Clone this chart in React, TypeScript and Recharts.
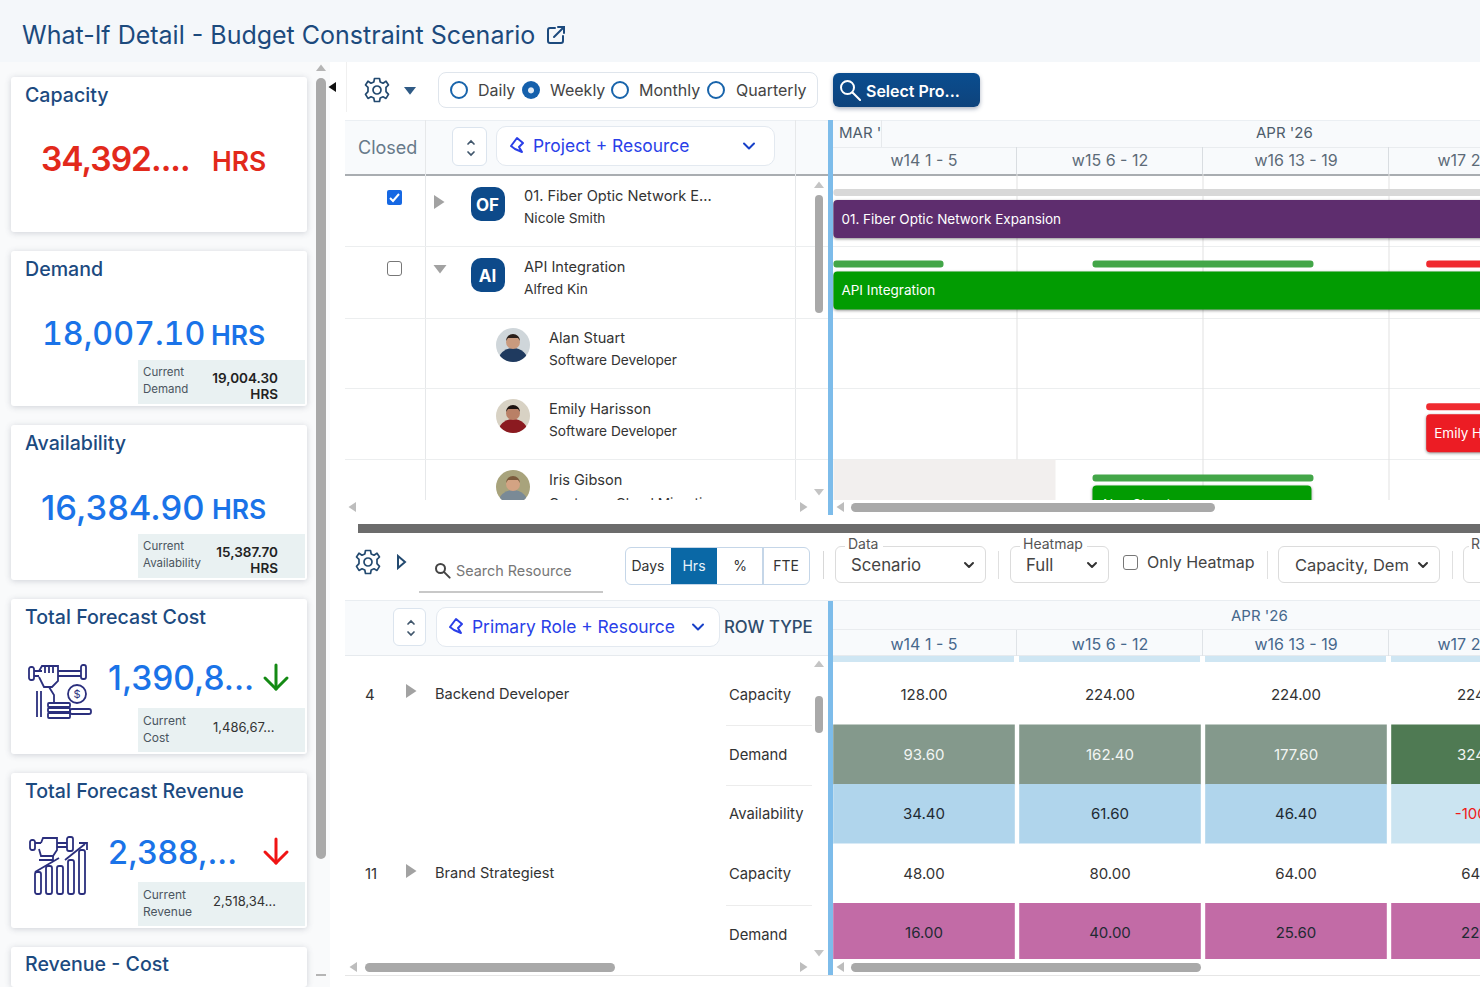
import React from 'react';
import { Bar, BarChart, CartesianGrid, Cell, LabelList, XAxis, YAxis } from 'recharts';

const FONT = 'Inter, "Noto Sans", sans-serif';

// shared time axis
const weekLabels = ['w14  1 - 5', 'w15  6 - 12', 'w16  13 - 19', 'w17  20 - 26'];
const weekTicks = [0.5, 1.5, 2.5, 3.5];
const weekLines = [1, 2, 3];

// gantt rows, all positions in week units
const ganttRows = ['01. Fiber Optic Network Expansion', 'API Integration', 'Alan Stuart', 'Emily Harisson', 'Iris Gibson'];
const mainRanges = [[0.013, 4], [0.013, 4], null, [3.2, 4], [1.406, 2.583]];
const mainLabels = ['01. Fiber Optic Network Expansion', 'API Integration', '', 'Emily Harisson', 'Alan Stuart'];
const mainColors = ['#5e2d6e', '#029c02', '#029c02', '#ec1c24', '#029c02'];
const leaveRanges = [null, null, null, null, [0.013, 1.207]];
const thinGap1 = [0.013, 0.013, 0, 3.2, 1.406];
const thinSeg1 = [3.987, 0.592, 0, 0.8, 1.188];
const thinGap2 = [0, 0.801, 0, 0, 0];
const thinSeg2 = [0, 1.188, 0, 0, 0];
const thinGap3 = [0, 0.606, 0, 0, 0];
const thinSeg3 = [0, 0.8, 0, 0, 0];
const thinColor1 = ['#d8d8d8', '#43a648', '#fff', '#f02a2f', '#43a648'];
const thinColor2 = ['#fff', '#43a648', '#fff', '#fff', '#fff'];
const thinColor3 = ['#fff', '#f02a2f', '#fff', '#fff', '#fff'];

// heatmap rows
const heatRows = ['Backend Capacity', 'Backend Demand', 'Backend Availability', 'Brand Capacity', 'Brand Demand'];
const backendCapacity = [128, 224, 224, 224];
const backendDemand = [93.6, 162.4, 177.6, 324.8];
const backendAvailability = [34.4, 61.6, 46.4, -100.8];
const brandCapacity = [48, 80, 64, 64];
const brandDemand = [16, 40, 25.6, 22.4];
const heatValues = [backendCapacity, backendDemand, backendAvailability, brandCapacity, brandDemand];
const heatFills = [
  ['#fff', '#fff', '#fff', '#fff'],
  ['#84998c', '#84998c', '#84998c', '#4f7a53'],
  ['#b0d5ec', '#b0d5ec', '#b0d5ec', '#cbe4f1'],
  ['#fff', '#fff', '#fff', '#fff'],
  ['#c26ba6', '#c26ba6', '#c26ba6', '#c26ba6'],
];
const heatInk = [
  ['#333', '#333', '#333', '#333'],
  ['#f2f5f3', '#f2f5f3', '#f2f5f3', '#f2f5f3'],
  ['#1f2a33', '#1f2a33', '#1f2a33', '#f01818'],
  ['#333', '#333', '#333', '#333'],
  ['#1f2a33', '#1f2a33', '#1f2a33', '#1f2a33'],
];

const ganttData = ganttRows.map((row, i) => ({
  row,
  pad: 0,
  leave: leaveRanges[i],
  main: mainRanges[i],
  label: mainLabels[i],
  gap1: thinGap1[i],
  seg1: thinSeg1[i],
  gap2: thinGap2[i],
  seg2: thinSeg2[i],
  gap3: thinGap3[i],
  seg3: thinSeg3[i],
}));

const heatData = heatRows.map((row) => ({ row, u0: 1, u1: 1, u2: 1, u3: 1 }));

// KPI cards
const cards = [
  { top: 77, title: 'Capacity', value: '34,392....', unit: 'HRS', color: '#e2291b', vx: 41, ux: 212, vs: 33.5, ls: -1, vw: 600 },
  { top: 251, title: 'Demand', value: '18,007.10', unit: 'HRS', color: '#1a73e8', vx: 42, ux: 211, vs: 32.2, tnum: true, sub: ['Current', 'Demand'], subVal: ['19,004.30', 'HRS'] },
  { top: 425, title: 'Availability', value: '16,384.90', unit: 'HRS', color: '#1a73e8', vx: 41, ux: 212, vs: 34.5, sub: ['Current', 'Availability'], subVal: ['15,387.70', 'HRS'] },
  { top: 599, title: 'Total Forecast Cost', value: '1,390,8...', color: '#1a73e8', vx: 108, vs: 33.5, sub: ['Current', 'Cost'], subText: '1,486,67...', arrow: '#148a14', icon: 'cost' },
  { top: 773, title: 'Total Forecast Revenue', value: '2,388,...', color: '#1a73e8', vx: 108, vs: 32.5, sub: ['Current', 'Revenue'], subText: '2,518,34...', arrow: '#f01414', icon: 'rev' },
];

const T = ({ x, y, s = 15, c = '#333', w = 400, a, style, children }: any) => (
  <div
    style={{
      position: 'absolute',
      left: x,
      top: y,
      fontSize: s,
      color: c,
      fontWeight: w,
      whiteSpace: 'pre',
      lineHeight: 1,
      transform: a === 'c' ? 'translate(-50%,-50%)' : 'translateY(-50%)',
      ...style,
    }}
  >
    {children}
  </div>
);

const Box = ({ x, y, w, h, style, children }: any) => (
  <div style={{ position: 'absolute', left: x, top: y, width: w, height: h, boxSizing: 'border-box', ...style }}>{children}</div>
);

const Tri = ({ x, y, dir = 'r', size = 5, c = '#999' }: any) => {
  const pts: any = {
    r: `0,${-size} ${size * 1.5},0 0,${size}`,
    l: `0,${-size} ${-size * 1.5},0 0,${size}`,
    d: `${-size},0 ${size},0 0,${size * 1.3}`,
    u: `${-size},0 ${size},0 0,${-size * 1.3}`,
  };
  return (
    <svg style={{ position: 'absolute', left: x - 12, top: y - 12 }} width={24} height={24} viewBox="-12 -12 24 24">
      <polygon points={pts[dir]} fill={c} />
    </svg>
  );
};

const Gear = ({ x, y }: any) => (
  <svg style={{ position: 'absolute', left: x - 14, top: y - 14 }} width={28} height={28} viewBox="-14 -14 28 28" fill="none" stroke="#234a70" strokeWidth={1.7}>
    <path d="M-2.5,-11.5 L2.5,-11.5 L3.2,-8 L6,-6.8 L9,-8.8 L11.5,-5 L9,-2.6 L9,1.6 L11.5,4.4 L9,8.4 L6,6.8 L3.2,8 L2.5,11.5 L-2.5,11.5 L-3.2,8 L-6,6.8 L-9,8.4 L-11.5,4.4 L-9,1.6 L-9,-2.6 L-11.5,-5 L-9,-8.8 L-6,-6.8 L-3.2,-8 Z" strokeLinejoin="round" />
    <circle r={4} />
  </svg>
);

const Chevron = ({ x, y, c = '#333', s = 5 }: any) => (
  <svg style={{ position: 'absolute', left: x - 8, top: y - 8 }} width={16} height={16} viewBox="-8 -8 16 16" fill="none" stroke={c} strokeWidth={2} strokeLinecap="round" strokeLinejoin="round">
    <polyline points={`${-s},${-s / 2} 0,${s / 2} ${s},${-s / 2}`} />
  </svg>
);

const Magnifier = ({ x, y, c = '#555', r = 5 }: any) => (
  <svg style={{ position: 'absolute', left: x - 12, top: y - 12 }} width={24} height={24} viewBox="-12 -12 24 24" fill="none" stroke={c} strokeWidth={2}>
    <circle cx={-1.5} cy={-1.5} r={r} />
    <line x1={r * 0.7 - 1} y1={r * 0.7 - 1} x2={r * 1.7} y2={r * 1.7} strokeLinecap="round" />
  </svg>
);

const Gem = ({ x, y }: any) => (
  <svg style={{ position: 'absolute', left: x - 9, top: y - 9 }} width={18} height={18} viewBox="-9 -9 18 18" fill="none" stroke="#2a3fe8" strokeWidth={2}>
    <path d="M0,-7 L6,-2 L2,2 L5,7 L-2,4 L-6,1 Z" strokeLinejoin="round" />
  </svg>
);

const SortBtn = ({ x, y, w, h }: any) => (
  <Box x={x} y={y} w={w} h={h} style={{ border: '1px solid #dbe4ee', borderRadius: 6, background: '#fff' }}>
    <svg style={{ position: 'absolute', left: w / 2 - 7, top: h / 2 - 10 }} width={14} height={20} viewBox="-7 -10 14 20" fill="none" stroke="#40566c" strokeWidth={1.7} strokeLinecap="round">
      <polyline points="-3,-4 0,-7 3,-4" />
      <polyline points="-3,4 0,7 3,4" />
    </svg>
  </Box>
);

const Avatar = ({ x, y, skin, coat, bg, hair }: any) => (
  <svg style={{ position: 'absolute', left: x - 17, top: y - 17 }} width={34} height={34} viewBox="-17 -17 34 34">
    <clipPath id={`av${y}`}><circle r={17} /></clipPath>
    <g clipPath={`url(#av${y})`}>
      <rect x={-17} y={-17} width={34} height={34} fill={bg} />
      <ellipse cx={0} cy={17} rx={15} ry={14} fill={coat} />
      <circle cx={0} cy={-3} r={7} fill={skin} />
      <path d="M-7,-4 A7,7 0 0 1 7,-4 L5,-7 L-5,-7 Z" fill={hair} />
    </g>
  </svg>
);

const CostIcon = ({ x, y }: any) => (
  <svg style={{ position: 'absolute', left: x, top: y }} width={66} height={58} viewBox="0 0 66 58" fill="none" stroke="#2b2f7d" strokeWidth={1.8}>
    <rect x={1} y={4} width={5} height={13} rx={2} />
    <rect x={53} y={2} width={5} height={14} rx={2} />
    <path d="M6,8 H14 M30,8 H53 M30,13 H53 M6,13 H11" />
    <path d="M11,8 L14,3 H30 V18 L24,24 H16 L11,14" />
    <path d="M17,3 V10 M21,3 V10 M25,3 V10" />
    <circle cx={49} cy={31} r={9} />
    <text x={49} y={35} fontSize={11} textAnchor="middle" fill="#2b2f7d" stroke="none">$</text>
    <rect x={20} y={40} width={22} height={4} rx={1} />
    <rect x={20} y={45} width={22} height={4} rx={1} />
    <rect x={20} y={50} width={22} height={5} rx={1} />
    <rect x={42} y={46} width={21} height={5} rx={2} />
    <path d="M9,28 V54 M13,28 V54 M21,24 L26,32 V40" />
  </svg>
);

const RevIcon = ({ x, y }: any) => (
  <svg style={{ position: 'absolute', left: x, top: y }} width={62} height={60} viewBox="0 0 62 60" fill="none" stroke="#2b2f7d" strokeWidth={1.8}>
    <rect x={1} y={4} width={5} height={10} rx={2} />
    <rect x={38} y={1} width={6} height={14} rx={2} />
    <path d="M6,7 H12 M28,7 H38 M28,11 H38" />
    <path d="M12,7 L14,2 H28 V14 L24,20 H12 L10,13" />
    <path d="M10,24 H24 L24,20 M6,36 L30,22 M36,24 L56,8 M50,7 H58 V14" />
    <rect x={6} y={36} width={6} height={22} rx={2} />
    <rect x={17} y={30} width={6} height={28} rx={2} />
    <rect x={28} y={30} width={6} height={28} rx={2} />
    <rect x={39} y={24} width={6} height={34} rx={2} />
    <rect x={50} y={14} width={6} height={44} rx={2} />
  </svg>
);

const DownArrow = ({ x, y, c }: any) => (
  <svg style={{ position: 'absolute', left: x - 15, top: y - 15 }} width={30} height={30} viewBox="-15 -15 30 30" fill="none" stroke={c} strokeWidth={3} strokeLinecap="round" strokeLinejoin="round">
    <line x1={0} y1={-12} x2={0} y2={12} />
    <polyline points="-11,1 0,12 11,1" />
  </svg>
);

const Card = ({ card }: any) => (
  <>
    <Box x={11} y={card.top} w={296} h={155} style={{ background: '#fff', borderRadius: 3, boxShadow: '0 1px 6px rgba(60,70,90,.22)' }} />
    <T x={25} y={card.top + 18.5} s={19.6} c="#1c4a80" w={500}>{card.title}</T>
    <T
      x={card.vx}
      y={card.top + (card.unit ? 83 : 80)}
      s={card.vs}
      c={card.color}
      w={card.vw || 500}
      style={{ letterSpacing: card.ls || 0, fontFeatureSettings: card.tnum ? '"tnum"' : 'normal' }}
    >
      {card.value}
    </T>
    {card.unit && <T x={card.ux} y={card.top + 84} s={26.5} c={card.color} w={600}>{card.unit}</T>}
    {card.sub && (
      <>
        <Box x={138} y={card.top + 109} w={167} h={44} style={{ background: '#e9f1f2' }} />
        <T x={143} y={card.top + 122} s={card.subText ? 12 : 11.5} c="#4b5560">{card.sub[0]}</T>
        <T x={143} y={card.top + 139} s={card.subText ? 12 : 11.5} c="#4b5560">{card.sub[1]}</T>
      </>
    )}
    {card.subVal && (
      <>
        <div style={{ position: 'absolute', right: 1480 - 278, top: card.top + 121, fontSize: 13.5, fontWeight: 600, color: '#222', lineHeight: 1, whiteSpace: 'pre' }}>{card.subVal[0]}</div>
        <div style={{ position: 'absolute', right: 1480 - 278, top: card.top + 137, fontSize: 13.5, fontWeight: 600, color: '#222', lineHeight: 1 }}>{card.subVal[1]}</div>
      </>
    )}
    {card.subText && <T x={213} y={card.top + 128} s={13} c="#333">{card.subText}</T>}
    {card.arrow && <DownArrow x={276} y={card.top + 78} c={card.arrow} />}
    {card.icon === 'cost' && <CostIcon x={28} y={card.top + 64} />}
    {card.icon === 'rev' && <RevIcon x={29} y={card.top + 63} />}
  </>
);

const Radio = ({ x, on }: any) => (
  <div
    style={{
      position: 'absolute',
      left: x - 9,
      top: 81,
      width: 18,
      height: 18,
      boxSizing: 'border-box',
      borderRadius: '50%',
      border: on ? 'none' : '2.2px solid #1864ab',
      background: on ? 'radial-gradient(circle at 50% 52%, #dfeaf5 0 2.5px, #1560ac 3.5px)' : '#fff',
    }}
  />
);

const HeatCell = (rowIdx: number) => (props: any) => {
  const { x, y, width, height, index } = props;
  const value = heatValues[index][rowIdx];
  return (
    <g>
      <rect x={x + 2.2} y={y} width={width - 4.4} height={height} fill={heatFills[index][rowIdx]} />
      <text x={x + width / 2} y={y + height / 2 + 1} textAnchor="middle" dominantBaseline="middle" fontSize={15} fill={heatInk[index][rowIdx]} fontFamily={FONT}>
        {value.toFixed(2)}
      </text>
    </g>
  );
};

const weekFormatter = (v: number) => weekLabels[weekTicks.indexOf(v)];

const GanttChart = () => (
  <BarChart
    width={744}
    height={384}
    data={ganttData}
    layout="vertical"
    barGap={4}
    margin={{ top: 0, right: 0, bottom: 0, left: 0 }}
    style={{ fontFamily: FONT }}
  >
    <CartesianGrid horizontal={false} vertical verticalValues={weekLines} stroke="#e1e1e1" />
    <XAxis
      type="number"
      orientation="top"
      domain={[0, 4]}
      ticks={weekTicks}
      interval={0}
      height={27}
      axisLine={false}
      tickLine={false}
      tickSize={0}
      tickMargin={8}
      tickFormatter={weekFormatter}
      tick={{ fontSize: 16, fill: '#5d6b78' }}
    />
    <YAxis type="category" dataKey="row" hide width={0} />
    <YAxis type="category" dataKey="row" yAxisId="band" hide width={0} />
    <Bar dataKey="leave" yAxisId="band" barSize={71} fill="#f2efee" isAnimationActive={false} />
    <Bar dataKey="pad" stackId="pad" barSize={4} fill="none" isAnimationActive={false} />
    <Bar dataKey="gap1" stackId="thin" barSize={7} fill="none" isAnimationActive={false} />
    <Bar dataKey="seg1" stackId="thin" barSize={7} radius={3} isAnimationActive={false}>
      {thinColor1.map((c, i) => <Cell key={i} fill={c} fillOpacity={thinSeg1[i] ? 1 : 0} />)}
    </Bar>
    <Bar dataKey="gap2" stackId="thin" barSize={7} fill="none" isAnimationActive={false} />
    <Bar dataKey="seg2" stackId="thin" barSize={7} radius={3} isAnimationActive={false}>
      {thinColor2.map((c, i) => <Cell key={i} fill={c} fillOpacity={thinSeg2[i] ? 1 : 0} />)}
    </Bar>
    <Bar dataKey="gap3" stackId="thin" barSize={7} fill="none" isAnimationActive={false} />
    <Bar dataKey="seg3" stackId="thin" barSize={7} radius={3} isAnimationActive={false}>
      {thinColor3.map((c, i) => <Cell key={i} fill={c} fillOpacity={thinSeg3[i] ? 1 : 0} />)}
    </Bar>
    <Bar dataKey="main" barSize={38} radius={4} isAnimationActive={false} style={{ filter: 'drop-shadow(0 1px 1.5px rgba(0,0,0,.45))' }}>
      {mainColors.map((c, i) => <Cell key={i} fill={c} />)}
      <LabelList dataKey="label" position="insideLeft" offset={8} fill="#fff" fontSize={13.5} />
    </Bar>
  </BarChart>
);

const HeatChart = () => (
  <BarChart
    width={744}
    height={332.5}
    data={heatData}
    layout="vertical"
    barCategoryGap={0}
    margin={{ top: 0, right: 0, bottom: 0, left: 0 }}
    style={{ fontFamily: FONT }}
  >
    <XAxis
      type="number"
      orientation="top"
      domain={[0, 4]}
      ticks={weekTicks}
      interval={0}
      height={35}
      axisLine={false}
      tickLine={false}
      tickSize={0}
      tickMargin={15}
      tickFormatter={weekFormatter}
      tick={{ fontSize: 16, fill: '#47688c' }}
    />
    <YAxis type="category" dataKey="row" hide width={0} />
    {['u0', 'u1', 'u2', 'u3'].map((k, i) => (
      <Bar key={k} dataKey={k} stackId="heat" isAnimationActive={false} shape={HeatCell(i)} />
    ))}
  </BarChart>
);

const scrollThumb = { background: '#a9a9a9', borderRadius: 5 };

export default function App() {
  return (
    <div style={{ position: 'absolute', left: 0, top: 0, width: 1480, height: 987, overflow: 'hidden', background: '#fff', fontFamily: FONT }}>
      {/* title + left panel */}
      <Box x={0} y={0} w={1480} h={62} style={{ background: '#f4f7fa' }} />
      <Box x={0} y={62} w={330} h={925} style={{ background: '#f9fafb' }} />
      <T x={22} y={35} s={25} c="#1c4a7d" w={400}>What-If Detail - Budget Constraint Scenario</T>
      <svg style={{ position: 'absolute', left: 546, top: 25 }} width={20} height={20} viewBox="0 0 20 20" fill="none" stroke="#1c4a7d" strokeWidth={2} strokeLinecap="round">
        <path d="M9,3 H4 A2,2 0 0 0 2,5 V16 A2,2 0 0 0 4,18 H15 A2,2 0 0 0 17,16 V11" />
        <path d="M8,12 L18,2 M12,2 H18 V8" />
      </svg>

      {cards.map((c) => <Card key={c.title} card={c} />)}
      <Box x={11} y={947} w={296} h={40} style={{ background: '#fff', borderRadius: 3, boxShadow: '0 1px 6px rgba(60,70,90,.22)' }} />
      <T x={25} y={964.5} s={19.6} c="#1c4a80" w={500}>Revenue - Cost</T>
      <Box x={316} y={78} w={10} h={781} style={scrollThumb} />
      <Tri x={321} y={71} dir="u" c="#b5b5b5" />
      <Box x={316} y={974} w={10} h={2} style={{ background: '#b5b5b5' }} />

      {/* toolbar */}
      <Box x={330} y={62} w={17} h={50} style={{ background: '#fff', borderRight: '1px solid #f0f0f0' }} />
      <Tri x={336} y={87} dir="l" size={5} c="#111" />
      <Gear x={377} y={90} />
      <Tri x={410} y={87} dir="d" size={6} c="#2f5a85" />
      <Box x={438} y={72} w={380} h={36} style={{ border: '1.5px solid #dfe5ec', borderRadius: 8 }} />
      <Radio x={459} />
      <T x={478} y={90} s={16} c="#444">Daily</T>
      <Radio x={531} on />
      <T x={550} y={90} s={16} c="#444">Weekly</T>
      <Radio x={620} />
      <T x={639} y={90} s={16} c="#444">Monthly</T>
      <Radio x={716} />
      <T x={736} y={90} s={16} c="#444">Quarterly</T>
      <Box x={833} y={73} w={147} h={34} style={{ background: 'linear-gradient(#0a4d8f,#0e437c)', borderRadius: 6, boxShadow: '0 2px 4px rgba(20,40,80,.35)' }} />
      <Magnifier x={849} y={89} c="#fff" r={6.5} />
      <T x={866} y={91} s={16} c="#fff" w={600}>Select Pro...</T>

      {/* gantt header */}
      <Box x={345} y={120} w={1135} h={54} style={{ background: '#f8fafc', borderTop: '1px solid #ebeff3' }} />
      <Box x={345} y={174} w={1135} h={2} style={{ background: '#a9adb1' }} />
      <Box x={425} y={120} w={1} h={380} style={{ background: '#e6e8ea' }} />
      <Box x={795} y={120} w={1} h={380} style={{ background: '#e6e8ea' }} />
      <T x={358} y={148} s={18} c="#67798a">Closed</T>
      <SortBtn x={452} y={127} w={35} h={39} />
      <Box x={496} y={126} w={279} h={40} style={{ border: '1px solid #e3e9f0', borderRadius: 10, background: '#fff' }} />
      <Gem x={517} y={145} />
      <T x={533} y={146} s={17.4} c="#2a3fe8">Project + Resource</T>
      <Chevron x={749} y={146} c="#1740c8" />
      <T x={839} y={132} s={15} c="#4e5d6c">MAR '</T>
      <Box x={881} y={120} w={1} h={27} style={{ background: '#e6e9ec' }} />
      <T x={1256} y={132} s={15} c="#4e5d6c">APR '26</T>
      <Box x={833} y={147} w={647} h={1} style={{ background: '#e9ecef' }} />
      <Box x={1016} y={147} w={1} h={27} style={{ background: '#d9dde1' }} />
      <Box x={1202} y={147} w={1} h={27} style={{ background: '#d9dde1' }} />
      <Box x={1388} y={147} w={1} h={27} style={{ background: '#d9dde1' }} />

      {/* gantt rows */}
      {[246, 318, 388, 459].map((y) => <Box key={y} x={345} y={y} w={1135} h={1} style={{ background: '#eceeef' }} />)}
      <Box x={387} y={190} w={15} h={15} style={{ background: '#1668e3', borderRadius: 2 }} />
      <svg style={{ position: 'absolute', left: 387, top: 190 }} width={15} height={15} viewBox="0 0 15 15" fill="none" stroke="#fff" strokeWidth={2}><polyline points="3,8 6,11 12,4" /></svg>
      <Box x={387} y={261} w={15} h={15} style={{ border: '1.6px solid #777', borderRadius: 3 }} />
      <Tri x={434} y={202} dir="r" size={7} c="#a2a2a2" />
      <Tri x={440} y={265} dir="d" size={6.5} c="#a2a2a2" />
      {[[187, 'OF'], [258, 'AI']].map(([y, label]: any) => (
        <Box key={label} x={471} y={y} w={34} h={34} style={{ background: '#0d4a8a', borderRadius: 10 }}>
          <T x={16.5} y={17.5} s={17} c="#fff" w={700} a="c">{label}</T>
        </Box>
      ))}
      <T x={524} y={196} s={14.6} c="#333">01. Fiber Optic Network E...</T>
      <T x={524} y={219} s={13.7} c="#333">Nicole Smith</T>
      <T x={524} y={267} s={14.6} c="#333">API Integration</T>
      <T x={524} y={290} s={13.7} c="#333">Alfred Kin</T>
      <Avatar x={513} y={345} skin="#c99a7e" coat="#1f3a5f" bg="#cfd6da" hair="#2a1f1a" />
      <T x={549} y={337.5} s={14.6} c="#333">Alan Stuart</T>
      <T x={549} y={360.5} s={13.7} c="#333">Software Developer</T>
      <Avatar x={513} y={416} skin="#b98066" coat="#8b1a20" bg="#d8d2c4" hair="#1c1210" />
      <T x={549} y={408.5} s={14.6} c="#333">Emily Harisson</T>
      <T x={549} y={431.5} s={13.7} c="#333">Software Developer</T>
      <Avatar x={513} y={487} skin="#d3a383" coat="#7a8a96" bg="#a8a37c" hair="#7b5a3c" />
      <T x={549} y={479.5} s={14.6} c="#333">Iris Gibson</T>
      <T x={549} y={503.5} s={13.7} c="#333">Customer Cloud Migration</T>

      {/* gantt chart */}
      <Box x={830.5} y={147} w={650} h={353} style={{ overflow: 'hidden' }}>
        <GanttChart />
      </Box>

      {/* cover for clipped rows + scroll strip */}
      <Box x={340} y={500} w={1140} h={22} style={{ background: '#fff' }} />
      <Box x={815} y={195} w={8} h={118} style={scrollThumb} />
      <Tri x={819} y={188} dir="u" c="#c4c4c4" />
      <Tri x={819} y={489} dir="d" c="#c4c4c4" />
      <Tri x={356} y={507} dir="l" c="#bdbdbd" />
      <Tri x={800} y={507} dir="r" c="#bdbdbd" />
      <Tri x={844} y={507} dir="l" c="#bdbdbd" />
      <Box x={851} y={503} w={364} h={9} style={scrollThumb} />
      <Box x={828} y={120} w={4.5} h={395} style={{ background: '#7dbcea' }} />

      {/* splitter */}
      <Box x={358} y={524} w={1122} h={9} style={{ background: '#6c6c6c' }} />

      {/* lower toolbar */}
      <Gear x={368} y={562} />
      <svg style={{ position: 'absolute', left: 396, top: 554 }} width={12} height={16} viewBox="0 0 12 16" fill="none" stroke="#234a70" strokeWidth={2}><polygon points="2,2 9,8 2,14" /></svg>
      <Magnifier x={442} y={570} c="#444" r={4.5} />
      <T x={456} y={570.5} s={14.4} c="#777">Search Resource</T>
      <Box x={419} y={591} w={184} h={1.5} style={{ background: '#c8c8c8' }} />
      <Box x={625} y={547} w={185} h={38} style={{ border: '1.5px solid #c5d6e8', borderRadius: 6 }} />
      <Box x={671} y={548} w={46} h={36} style={{ background: '#0a68a6' }} />
      <Box x={762} y={548} w={1.5} h={36} style={{ background: '#c5d6e8' }} />
      <T x={648} y={566} s={14} c="#333" a="c">Days</T>
      <T x={694} y={566} s={14} c="#e8f2fa" a="c">Hrs</T>
      <T x={740} y={566} s={14} c="#333" a="c">%</T>
      <T x={786} y={566} s={14} c="#333" a="c">FTE</T>
      <Box x={823} y={551} w={1} h={28} style={{ background: '#d8d8d8' }} />
      <Box x={835} y={546} w={151} h={37} style={{ border: '1.5px solid #dcdcdc', borderRadius: 6 }} />
      <Box x={845} y={540} w={38} h={8} style={{ background: '#fff' }} />
      <T x={848} y={544} s={14} c="#555">Data</T>
      <T x={851} y={565} s={16.8} c="#444">Scenario</T>
      <Chevron x={969} y={565} s={4} />
      <Box x={998} y={551} w={1} h={28} style={{ background: '#e0e0e0' }} />
      <Box x={1010} y={546} w={99} h={37} style={{ border: '1.5px solid #dcdcdc', borderRadius: 6 }} />
      <Box x={1020} y={540} w={67} h={8} style={{ background: '#fff' }} />
      <T x={1023} y={544} s={14} c="#555">Heatmap</T>
      <T x={1026} y={565} s={16.8} c="#444">Full</T>
      <Chevron x={1092} y={565} s={4} />
      <Box x={1123} y={555} w={15} h={15} style={{ border: '1.6px solid #777', borderRadius: 3 }} />
      <T x={1147} y={562} s={16} c="#444">Only Heatmap</T>
      <Box x={1267} y={551} w={1} h={28} style={{ background: '#e0e0e0' }} />
      <Box x={1278} y={546} w={162} h={37} style={{ border: '1.5px solid #dcdcdc', borderRadius: 6 }} />
      <T x={1295} y={565} s={16.5} c="#444">Capacity, Dem</T>
      <Chevron x={1423} y={565} s={4} />
      <Box x={1452} y={551} w={1} h={28} style={{ background: '#e0e0e0' }} />
      <Box x={1463} y={546} w={40} h={37} style={{ border: '1.5px solid #dcdcdc', borderRadius: 6 }} />
      <Box x={1469} y={540} w={11} h={8} style={{ background: '#fff' }} />
      <T x={1471} y={544} s={14} c="#555">R</T>

      {/* lower header */}
      <Box x={345} y={600} w={1135} h={56} style={{ background: '#f8fafc', borderTop: '1px solid #e9edf1', borderBottom: '1px solid #e6eaee' }} />
      <SortBtn x={393} y={608} w={33} h={38} />
      <Box x={436} y={607} w={284} h={40} style={{ border: '1px solid #e3e9f0', borderRadius: 10, background: '#fff' }} />
      <Gem x={456} y={626} />
      <T x={472} y={627} s={17.4} c="#2a3fe8">Primary Role + Resource</T>
      <Chevron x={698} y={627} c="#1740c8" />
      <T x={724} y={627} s={16.8} c="#2e4c6c" w={500}>ROW TYPE</T>
      <T x={1231} y={614.5} s={15} c="#47688c">APR '26</T>
      <Box x={833} y={629} w={647} h={1} style={{ background: '#e9ecef' }} />
      <Box x={1016} y={630} w={1} h={26} style={{ background: '#dfe3e7' }} />
      <Box x={1202} y={630} w={1} h={26} style={{ background: '#dfe3e7' }} />
      <Box x={1388} y={630} w={1} h={26} style={{ background: '#dfe3e7' }} />
      {[832.7, 1018.7, 1204.7, 1390.7].map((x) => <Box key={x} x={x} y={656} w={181.6} h={6} style={{ background: '#cfe6f3' }} />)}

      {/* lower rows */}
      <T x={365} y={694} s={15} c="#333">4</T>
      <Tri x={406} y={691} dir="r" size={7} c="#a2a2a2" />
      <T x={435} y={694} s={14.6} c="#333">Backend Developer</T>
      <T x={365} y={873} s={15} c="#333">11</T>
      <Tri x={406} y={871} dir="r" size={7} c="#a2a2a2" />
      <T x={435} y={873} s={14.6} c="#333">Brand Strategiest</T>
      {[[695, 'Capacity'], [755, 'Demand'], [814, 'Availability'], [874, 'Capacity'], [935, 'Demand']].map(([y, t]: any) => (
        <T key={y} x={729} y={y} s={14.8} c="#333">{t}</T>
      ))}
      {[725, 785, 905].map((y) => <Box key={y} x={726} y={y} w={86} h={1} style={{ background: '#ececec' }} />)}

      {/* heatmap */}
      <Box x={830.5} y={630} w={650} h={329} style={{ overflow: 'hidden' }}>
        <HeatChart />
      </Box>

      <Box x={815} y={696} w={8} h={37} style={scrollThumb} />
      <Tri x={819} y={667} dir="u" c="#c4c4c4" />
      <Tri x={819} y={950} dir="d" c="#c4c4c4" />
      <Tri x={357} y={967} dir="l" c="#bdbdbd" />
      <Box x={365} y={963} w={250} h={9} style={scrollThumb} />
      <Tri x={800} y={967} dir="r" c="#bdbdbd" />
      <Tri x={844} y={967} dir="l" c="#bdbdbd" />
      <Box x={851} y={963} w={350} h={9} style={scrollThumb} />
      <Box x={828} y={601} w={5} h={374} style={{ background: '#7dbcea' }} />
      <Box x={345} y={975} w={1135} h={1} style={{ background: '#e6e6e6' }} />
    </div>
  );
}
